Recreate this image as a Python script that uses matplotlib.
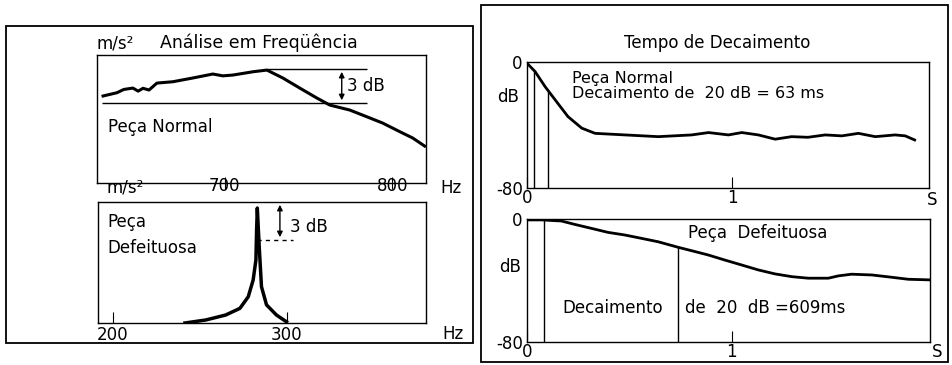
import numpy as np
import matplotlib
matplotlib.use("Agg")
import matplotlib.pyplot as plt
from matplotlib.patches import Rectangle

# --- data ---
# normal part, frequency response (Hz, dB relative to peak)
normal_freq = [627.6, 635.9, 640.0, 645.4, 648.5, 651.4, 655.0, 659.7, 669.2, 681.1,
               693.0, 699.0, 705.0, 716.9, 725.2, 734.7, 744.8, 755.0, 762.7, 774.6,
               784.7, 794.2, 804.4, 812.1, 819.2]
normal_db = [-2.38, -2.09, -1.80, -1.68, -1.95, -1.70, -1.85, -1.24, -1.12, -0.79,
             -0.44, -0.60, -0.53, -0.24, -0.09, -0.79, -1.68, -2.56, -3.18, -3.62,
             -4.21, -4.77, -5.53, -6.09, -6.80]

# defective part, frequency response (Hz, relative amplitude)
defect_freq = [241.4, 253.4, 264.8, 273.0, 277.8, 280.6, 282.2, 282.6, 283.0,
               284.1, 285.4, 288.3, 294.0, 299.8]
defect_amp = [0, 2.5, 6.6, 12.1, 21.7, 35.5, 52, 77, 95, 63, 30, 15, 6.6, 1]

# decay curves (s, dB)
normal_t = [0.0, 0.039, 0.088, 0.137, 0.2, 0.267, 0.332, 0.478, 0.64, 0.803, 0.885,
            0.982, 1.047, 1.128, 1.21, 1.29, 1.37, 1.454, 1.535, 1.616, 1.698,
            1.795, 1.844, 1.89]
normal_decay = [-0.8, -6, -15.6, -24, -34.7, -42, -45.3, -46.3, -47.4, -46.3, -44.8,
                -46.3, -44.8, -46.3, -49, -47.4, -47.8, -46.3, -46.9, -45.3, -47.4,
                -46.3, -46.9, -49.5]
defect_t = [0.0, 0.07, 0.168, 0.233, 0.315, 0.396, 0.478, 0.56, 0.641, 0.739, 0.804,
            0.886, 0.967, 1.049, 1.13, 1.212, 1.294, 1.375, 1.473, 1.522, 1.587,
            1.686, 1.783, 1.864, 1.97]
defect_decay = [-0.6, -0.6, -1.3, -3.5, -6.1, -8.7, -10.4, -12.6, -14.8, -18.4, -20.6,
                -23.4, -26.7, -29.9, -33.1, -35.7, -37.5, -38.5, -38.5, -37.0, -35.9,
                -36.4, -37.9, -39.2, -39.6]

normal_marks = [0.036, 0.104]
defect_marks = [0.083, 0.739]

plt.rcParams["font.family"] = "DejaVu Sans"
fs = 12
W, H = 953, 365

fig = plt.figure(figsize=(9.53, 3.65), dpi=100)


def px_axes(x0, y0, x1, y1):
    return fig.add_axes([x0 / W, 1 - y1 / H, (x1 - x0) / W, (y1 - y0) / H])


def ftext(x, y, s, **kw):
    kw.setdefault("fontsize", fs)
    fig.text(x / W, 1 - y / H, s, va="center", **kw)


# outer frames
for x0, y0, x1, y1 in [(6, 26, 473, 343), (481, 5, 948, 362)]:
    fig.add_artist(Rectangle((x0 / W, 1 - y1 / H), (x1 - x0) / W, (y1 - y0) / H,
                             transform=fig.transFigure, fill=False, lw=1.3, color="black"))

# ---------- top left: normal part spectrum ----------
ax1 = px_axes(97, 55, 426, 183)
ax1.plot(normal_freq, normal_db, color="black", lw=2.2)
ax1.hlines(0, 725, 785, color="black", lw=1)
ax1.hlines(-3, 627, 785, color="black", lw=1)
ax1.annotate("", xy=(769.8, 0), xytext=(769.8, -3),
             arrowprops=dict(arrowstyle="<|-|>", color="black", lw=1, mutation_scale=8))
ax1.text(773, -1.5, "3 dB", fontsize=fs, va="center")
ax1.text(630.5, -5.1, "Peça Normal", fontsize=fs, va="center")
ax1.set_xlim(624, 820)
ax1.set_ylim(-10.06, 1.24)
ax1.set_xticks([700, 800])
ax1.set_xticklabels(["700", "800"], fontsize=fs)
ax1.set_yticks([])
ax1.tick_params(axis="x", direction="inout", length=8, pad=-8)
ftext(97, 43, "m/s²")
ftext(160, 43, "Análise em Freqüência", fontsize=12.5)
ftext(440, 188, "Hz")

# ---------- bottom left: defective part spectrum ----------
ax2 = px_axes(98, 202, 426, 323)
ax2.plot(defect_freq, defect_amp, color="black", lw=2.5)
ax2.hlines(68.6, 283, 303.4, color="black", lw=1, linestyles=(0, (3, 3)))
ax2.annotate("", xy=(296, 100), xytext=(296, 68.6),
             arrowprops=dict(arrowstyle="<|-|>", color="black", lw=1, mutation_scale=8))
ax2.text(301.7, 79.3, "3 dB", fontsize=fs, va="center")
ax2.text(196.6, 72.7, "Peça\nDefeituosa", fontsize=fs, va="center", linespacing=1.6)
ax2.set_xlim(191.4, 380)
ax2.set_ylim(0, 100)
ax2.set_xticks([200, 300])
ax2.set_xticklabels(["200", "300"], fontsize=fs)
ax2.set_yticks([])
ax2.tick_params(axis="x", direction="in", length=8, pad=2)
ftext(107, 188, "m/s²")
ftext(442, 334, "Hz")

# ---------- top right: normal part decay ----------
ax3 = px_axes(527, 62, 929, 188)
ax3.plot(normal_t, normal_decay, color="black", lw=2)
for t in normal_marks:
    ax3.vlines(t, -80, np.interp(t, normal_t, normal_decay), color="black", lw=1)
ax3.text(0.218, -10.3, "Peça Normal", fontsize=11.5, va="center")
ax3.text(0.218, -20.3, "Decaimento de  20 dB = 63 ms", fontsize=11.5, va="center")
ax3.set_xlim(0, 1.96)
ax3.set_ylim(-80, 0)
ax3.set_xticks([0, 1])
ax3.set_xticklabels(["0", "1"], fontsize=fs)
ax3.set_yticks([0, -80])
ax3.set_yticklabels(["0", "-80"], fontsize=fs)
ax3.tick_params(axis="x", direction="in", length=8, pad=1)
ax3.tick_params(axis="y", length=0, pad=3)
ftext(508, 97, "dB", ha="center")
ftext(932, 200, "S", ha="center")
ftext(716.7, 43, "Tempo de Decaimento", ha="center")

# ---------- bottom right: defective part decay ----------
ax4 = px_axes(527, 219, 930, 342)
ax4.plot(defect_t, defect_decay, color="black", lw=2)
ax4.vlines(defect_marks[0], -80, 0, color="black", lw=1)
ax4.vlines(defect_marks[1], -80, np.interp(defect_marks[1], defect_t, defect_decay),
           color="black", lw=1)
ax4.text(0.788, -9.3, "Peça  Defeituosa", fontsize=fs, va="center")
ax4.text(0.171, -58, "Decaimento", fontsize=fs, va="center")
ax4.text(0.772, -58, "de  20  dB =609ms", fontsize=fs, va="center")
ax4.set_xlim(0, 1.97)
ax4.set_ylim(-80, 0)
ax4.set_xticks([0, 1])
ax4.set_xticklabels(["0", "1"], fontsize=fs)
ax4.set_yticks([0, -80])
ax4.set_yticklabels(["0", "-80"], fontsize=fs)
ax4.tick_params(axis="x", direction="in", length=8, pad=1)
ax4.tick_params(axis="y", length=0, pad=3)
ftext(510, 267, "dB", ha="center")
ftext(937, 352, "S", ha="center")

for ax in (ax1, ax2, ax3, ax4):
    for sp in ax.spines.values():
        sp.set_linewidth(1)

fig.savefig("out.png", dpi=100)
